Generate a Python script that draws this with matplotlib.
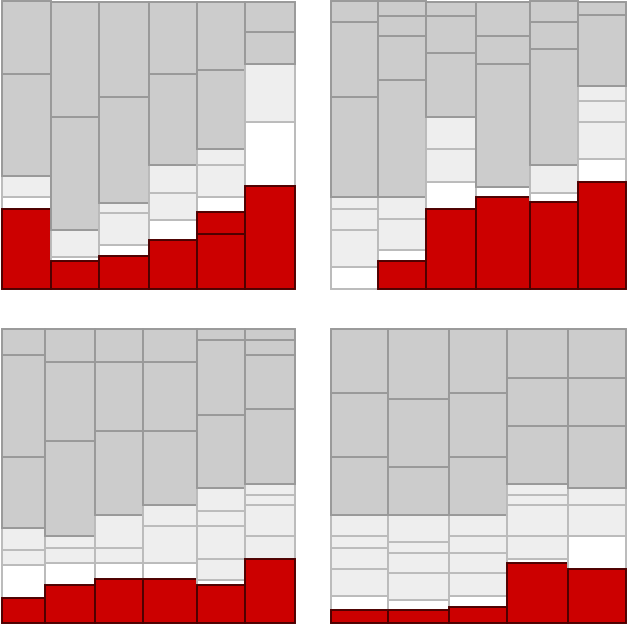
import matplotlib
matplotlib.use("Agg")
import matplotlib.pyplot as plt
import numpy as np

# segment categories from bottom to top: R = red, W = white, L = light gray, D = dark gray
p1_widths = [49.7, 48.3, 49.7, 48.3, 48.0, 49.7]
p1_heights = [
    [80, 12.3, 21, 101.7, 73],
    [28, 3.3, 27.7, 112.7, 116.3],
    [32.3, 11, 32.4, 10, 106.6, 95.7],
    [49, 20, 27.3, 27.7, 91, 73],
    [54.7, 21.6, 15.4, 32, 16.3, 79.7, 68.3],
    [103, 64.3, 58.4, 31.6, 30.7],
]
p1_kinds = [
    "RWLDD", "RWLDD", "RWLLDD", "RWLLDD", "RRWLLDD", "RWLDD",
]

p2_widths = [47.4, 48.3, 49.7, 54.6, 47.7, 47.7]
p2_heights = [
    [21.3, 37.7, 21, 11.7, 100.6, 75, 20.7],
    [28, 10.3, 31.4, 22.6, 116.7, 44, 20.3, 14.7],
    [80, 26.7, 33.3, 31.7, 65, 36.6, 14.7],
    [92.3, 10, 123.4, 27.3, 35],
    [86.7, 9.6, 27.7, 116, 27.3, 20.7],
    [107.3, 22.4, 37.6, 20.7, 15, 71, 14],
]
p2_kinds = [
    "WLLLDDD", "RWLLDDDD", "RWLLDDD", "RWDDD", "RWLDDD", "RWLLLDD",
]

p3_widths = [43.3, 50.0, 48.4, 54.0, 48.3, 49.7]
p3_heights = [
    [24.6, 33.4, 14.3, 23, 70.7, 102.3, 26.7],
    [37.3, 22.7, 14.3, 12.3, 96, 79, 33.4],
    [43.3, 16.7, 14.3, 33.3, 85, 69, 33.4],
    [43.3, 16.7, 37.3, 21, 74.3, 69, 33.4],
    [37.3, 5.3, 21.4, 33.3, 14.3, 23.4, 73.3, 75, 11.7],
    [64, 22.6, 31.7, 10, 10.7, 75.3, 54, 15, 11.7],
]
p3_kinds = [
    "RWLLDDD", "RWLLDDD", "RWLLDDD", "RWLLDDD", "RWLLLLDDD", "RLLLLDDDD",
]

p4_widths = [57.7, 60.7, 58.3, 60.7, 58.0]
p4_heights = [
    [12.3, 14.3, 26.7, 21, 12.3, 21, 58.4, 64.6, 64.4],
    [12.3, 10, 27.7, 20, 10.6, 27, 48, 68.7, 70.7],
    [16, 10.6, 23.4, 20, 16.6, 21, 58.4, 64.6, 64.4],
    [60, 4, 22.6, 31.7, 10, 10.7, 58.3, 48.3, 49.4],
    [54, 32.6, 31.7, 16.7, 62.3, 48.3, 49.4],
]
p4_kinds = [
    "RWLLLLDDD", "RWLLLLDDD", "RWLLLLDDD", "RWLLLLDDD", "RWLLDDD",
]

face = {"R": "#cc0000", "W": "#ffffff", "L": "#eeeeee", "D": "#cccccc"}
edge = {"R": "#4d0000", "W": "#bbbbbb", "L": "#bbbbbb", "D": "#999999"}

W, H = 627, 625
fig = plt.figure(figsize=(W / 100, H / 100), dpi=100)

# pixel boxes (left, top, right, bottom)
boxes = [(1.5, 1.5, 294.5, 288.5), (330.5, 1.5, 625.5, 288.5),
         (1.5, 328.5, 294.5, 622.5), (330.5, 328.5, 625.5, 622.5)]
panels = [(p1_widths, p1_heights, p1_kinds), (p2_widths, p2_heights, p2_kinds),
          (p3_widths, p3_heights, p3_kinds), (p4_widths, p4_heights, p4_kinds)]


def mosaic(ax, widths, heights, kinds):
    w = np.array(widths) / sum(widths)
    x0 = np.concatenate([[0], np.cumsum(w)[:-1]])
    for xi, wi, hs, ks in zip(x0, w, heights, kinds):
        h = np.array(hs) / sum(hs)
        y0 = np.concatenate([[0], np.cumsum(h)[:-1]])
        # light first, then dark, red last so their edges sit on top
        order = sorted(range(len(ks)), key=lambda i: "WLDR".index(ks[i]))
        for i in order:
            ax.bar(xi, h[i], width=wi, bottom=y0[i], align="edge",
                   color=face[ks[i]], edgecolor=edge[ks[i]],
                   linewidth=1.4, clip_on=False)


for (l, t, r, b), (wd, ht, kd) in zip(boxes, panels):
    ax = fig.add_axes([l / W, 1 - b / H, (r - l) / W, (b - t) / H])
    mosaic(ax, wd, ht, kd)
    ax.set_xlim(0, 1)
    ax.set_ylim(0, 1)
    ax.axis("off")

fig.savefig("out.png", dpi=100)
